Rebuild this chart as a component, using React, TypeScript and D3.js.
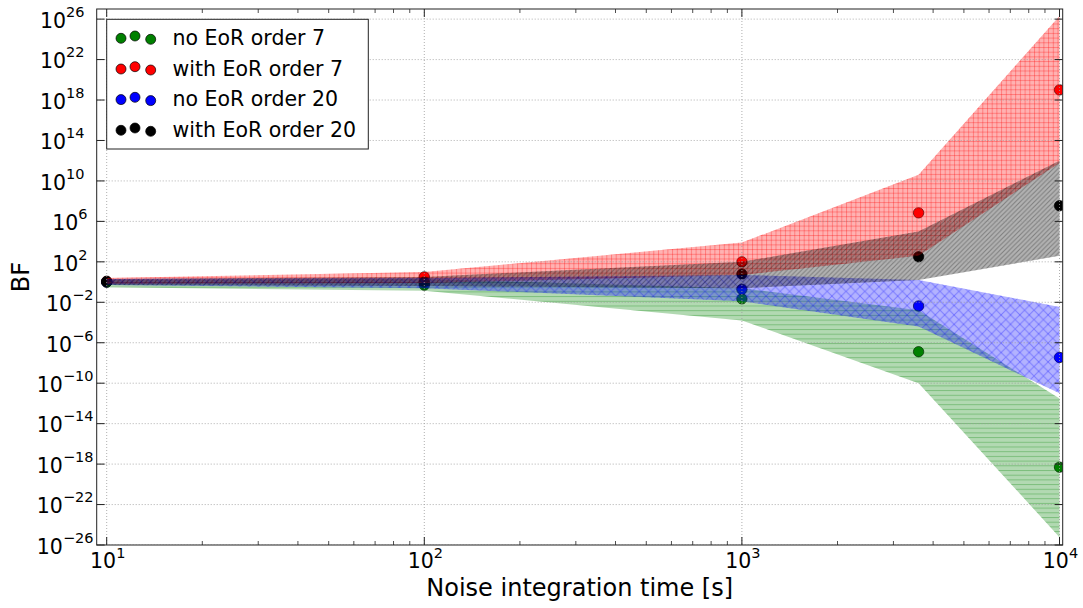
import React from "react";
import * as d3 from "d3";

// ---- data ----
const times = [10, 100, 1000, 3600, 10000];

const seriesNames = ["no EoR order 7", "with EoR order 7", "no EoR order 20", "with EoR order 20"];
const seriesColors = ["#008000", "#ff0000", "#0000ff", "#000000"];

// Bayes factor estimates
const bfNoEoR7 = [1, 0.5, 0.022, 1.3e-7, 5e-19];
const bfWithEoR7 = [1.2, 3.2, 100, 7e6, 1e19];
const bfNoEoR20 = [1, 0.8, 0.19, 4.3e-3, 3.5e-8];
const bfWithEoR20 = [1.1, 1, 6.3, 316, 3.5e7];

// uncertainty bands
const loNoEoR7 = [0.3, 0.14, 1.6e-4, 1e-10, 6e-26];
const hiNoEoR7 = [1.6, 2, 0.25, 1.6e-3, 3e-12];
const loWithEoR7 = [0.63, 0.8, 5, 400, 6e11];
const hiWithEoR7 = [2.5, 10, 8e3, 4e10, 2e26];
const loNoEoR20 = [0.5, 0.25, 0.0126, 4e-5, 1e-11];
const hiNoEoR20 = [2, 2.5, 5, 1.6, 3.5e-3];
const loWithEoR20 = [0.5, 0.4, 0.25, 1.6, 400];
const hiWithEoR20 = [2, 3.2, 100, 1e5, 1e12];

const yTickExps = [26, 22, 18, 14, 10, 6, 2, -2, -6, -10, -14, -18, -22, -26];
const xTickExps = [1, 2, 3, 4];

const points = [bfNoEoR7, bfWithEoR7, bfNoEoR20, bfWithEoR20];
const lows = [loNoEoR7, loWithEoR7, loNoEoR20, loWithEoR20];
const highs = [hiNoEoR7, hiWithEoR7, hiNoEoR20, hiWithEoR20];
const hatchIds = ["hatchGreen", "hatchRed", "hatchBlue", "hatchBlack"];

const W = 1083;
const H = 608;
const left = 96.7, right = 1062.7, top = 9, bottom = 545;
const FONT = "DejaVu Sans";

export default function App() {
  const x = d3
    .scaleLog()
    .domain([Math.pow(10, 1 - 10 / 317.6), Math.pow(10, 4 + 3.2 / 317.6)])
    .range([left, right]);
  const y = d3.scaleLog().domain([1e-26, 1e27]).range([bottom, top]);

  const area = d3
    .area<{ t: number; lo: number; hi: number }>()
    .x((d) => x(d.t))
    .y0((d) => y(d.lo))
    .y1((d) => y(d.hi));

  const minorX: number[] = [];
  for (let e = 0; e < 4; e++) {
    for (let m = 2; m <= 9; m++) {
      const v = m * Math.pow(10, e);
      if (v > x.domain()[0] && v < x.domain()[1]) minorX.push(v);
    }
  }

  const legendRows = [45, 75.7, 106.3, 137];
  const legendDx = [121, 135, 150.7];
  const legendDy = [-6.7, -9, -5.7];

  return (
    <svg
      width={W}
      height={H}
      style={{ position: "absolute", left: 0, top: 0, background: "#fff" }}
      fontFamily={FONT}
    >
      <defs>
        <clipPath id="plotClip">
          <rect x={left} y={top} width={right - left} height={bottom - top} />
        </clipPath>
        <pattern id="hatchGreen" patternUnits="userSpaceOnUse" width={4.7} height={4.7}>
          <line x1={0} y1={0.5} x2={4.7} y2={0.5} stroke="rgba(0,128,0,0.3)" strokeWidth={1} />
        </pattern>
        <pattern id="hatchRed" patternUnits="userSpaceOnUse" width={4.7} height={4.7}>
          <line x1={0} y1={0.5} x2={4.7} y2={0.5} stroke="rgba(255,0,0,0.3)" strokeWidth={1} />
          <line x1={0.5} y1={0} x2={0.5} y2={4.7} stroke="rgba(255,0,0,0.3)" strokeWidth={1} />
        </pattern>
        <pattern id="hatchBlue" patternUnits="userSpaceOnUse" width={9.4} height={9.4}>
          <line x1={0} y1={0} x2={9.4} y2={9.4} stroke="rgba(0,0,255,0.3)" strokeWidth={1} />
          <line x1={0} y1={9.4} x2={9.4} y2={0} stroke="rgba(0,0,255,0.3)" strokeWidth={1} />
        </pattern>
        <pattern id="hatchBlack" patternUnits="userSpaceOnUse" width={4.7} height={4.7}>
          <line x1={-1} y1={5.7} x2={5.7} y2={-1} stroke="rgba(0,0,0,0.3)" strokeWidth={1} />
          <line x1={3.7} y1={5.7} x2={5.7} y2={3.7} stroke="rgba(0,0,0,0.3)" strokeWidth={1} />
          <line x1={-1} y1={1} x2={1} y2={-1} stroke="rgba(0,0,0,0.3)" strokeWidth={1} />
        </pattern>
      </defs>

      <g clipPath="url(#plotClip)">
        {/* scatter points first */}
        {points.map((vals, si) =>
          vals.map((v, i) => (
            <circle
              key={`p${si}-${i}`}
              cx={x(times[i])}
              cy={y(v)}
              r={5.2}
              fill={seriesColors[si]}
              stroke="#000"
              strokeWidth={0.7}
            />
          ))
        )}
        {/* bands */}
        {lows.map((lo, si) => {
          const d = area(times.map((t, i) => ({ t, lo: lo[i], hi: highs[si][i] }))) || "";
          return (
            <g key={`b${si}`}>
              <path d={d} fill={seriesColors[si]} fillOpacity={0.3} stroke="none" />
              <path d={d} fill={`url(#${hatchIds[si]})`} stroke="none" />
            </g>
          );
        })}
        {/* grid */}
        {xTickExps.map((e) => (
          <line
            key={`gx${e}`}
            x1={x(Math.pow(10, e))}
            x2={x(Math.pow(10, e))}
            y1={top}
            y2={bottom}
            stroke="#9a9a9a"
            strokeWidth={0.8}
            strokeDasharray="1,2"
          />
        ))}
        {yTickExps.map((e) => (
          <line
            key={`gy${e}`}
            x1={left}
            x2={right}
            y1={y(Math.pow(10, e))}
            y2={y(Math.pow(10, e))}
            stroke="#9a9a9a"
            strokeWidth={0.8}
            strokeDasharray="1,2"
          />
        ))}
      </g>

      {/* ticks */}
      {xTickExps.map((e) => {
        const px = x(Math.pow(10, e));
        return (
          <g key={`tx${e}`} stroke="#222" strokeWidth={1}>
            <line x1={px} x2={px} y1={bottom} y2={bottom - 8} />
            <line x1={px} x2={px} y1={top} y2={top + 8} />
          </g>
        );
      })}
      {minorX.map((v, i) => {
        const px = x(v);
        return (
          <g key={`mx${i}`} stroke="#222" strokeWidth={0.8}>
            <line x1={px} x2={px} y1={bottom} y2={bottom - 4} />
            <line x1={px} x2={px} y1={top} y2={top + 4} />
          </g>
        );
      })}
      {yTickExps.map((e) => {
        const py = y(Math.pow(10, e));
        return (
          <g key={`ty${e}`} stroke="#222" strokeWidth={1}>
            <line x1={left} x2={left + 8} y1={py} y2={py} />
            <line x1={right} x2={right - 8} y1={py} y2={py} />
          </g>
        );
      })}

      {/* spines */}
      <rect x={left} y={top} width={right - left} height={bottom - top} fill="none" stroke="#222" strokeWidth={1} />

      {/* y tick labels */}
      {yTickExps.map((e) => {
        const py = y(Math.pow(10, e));
        const xe = e < 0 ? 93.5 : e >= 10 ? 84.5 : 87.5;
        return (
          <text key={`ly${e}`} x={xe} y={py + 8.8} textAnchor="end" fill="#000">
            <tspan fontSize={20.5}>10</tspan>
            <tspan fontSize={14.5} dy={-11}>
              {e < 0 ? `\u2212${-e}` : `${e}`}
            </tspan>
          </text>
        );
      })}

      {/* x tick labels */}
      {xTickExps.map((e) => {
        const px = x(Math.pow(10, e));
        return (
          <text key={`lx${e}`} x={px + 1} y={568.3} textAnchor="middle" fill="#000">
            <tspan fontSize={20.5}>10</tspan>
            <tspan fontSize={14.5} dy={-10}>
              {e}
            </tspan>
          </text>
        );
      })}

      {/* axis labels */}
      <text x={(left + right) / 2} y={595.5} textAnchor="middle" fontSize={24} fill="#000">
        Noise integration time [s]
      </text>
      <text
        transform={`translate(29, ${(top + bottom) / 2}) rotate(-90)`}
        textAnchor="middle"
        fontSize={24}
        fill="#000"
      >
        BF
      </text>

      {/* legend */}
      <rect x={106.7} y={19.3} width={261.6} height={129.7} fill="#fff" stroke="#222" strokeWidth={1} />
      {seriesNames.map((name, si) => (
        <g key={`lg${si}`}>
          {legendDx.map((dx, k) => (
            <circle
              key={k}
              cx={dx}
              cy={legendRows[si] + legendDy[k]}
              r={5}
              fill={seriesColors[si]}
              stroke="#000"
              strokeWidth={0.7}
            />
          ))}
          <text x={172.5} y={legendRows[si]} fontSize={20.5} fill="#000">
            {name}
          </text>
        </g>
      ))}
    </svg>
  );
}
